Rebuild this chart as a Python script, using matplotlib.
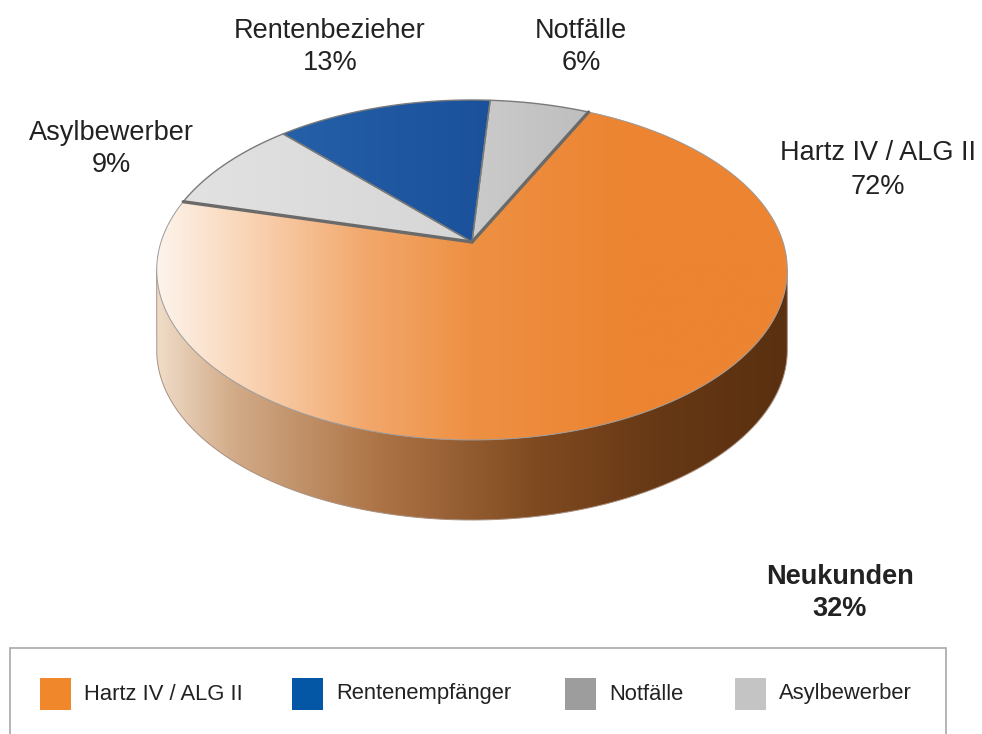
import numpy as np
import matplotlib
matplotlib.use("Agg")
import matplotlib.pyplot as plt
from matplotlib.patches import Polygon, Rectangle
from matplotlib.colors import LinearSegmentedColormap

# Daten
slice_labels = ["Hartz IV / ALG II", "Asylbewerber", "Rentenbezieher", "Notfälle"]
slice_shares = [72, 9, 13, 6]
legend_labels = ["Hartz IV / ALG II", "Rentenempfänger", "Notfälle", "Asylbewerber"]
legend_colors = ["#f0872a", "#0457a5", "#9d9d9d", "#c4c4c4"]
total_label = "Neukunden"
total_share = 32

plt.rcParams["font.family"] = ["Liberation Sans", "DejaVu Sans"]

fig = plt.figure(figsize=(9.82, 7.34), dpi=100)
ax = fig.add_axes([0, 0, 1, 1])
ax.set_xlim(0, 982)
ax.set_ylim(734, 0)
ax.axis("off")

# Geometrie des 3D-Kuchens (leichte Perspektive)
CX, CY, A, B, K, DEPTH = 472, 242, 311, 165.4, -0.1647, 80
START = 25.5  # Grad im Uhrzeigersinn von oben


def proj(theta, drop=0.0):
    t = np.radians(theta)
    u = np.sin(t)
    v = -np.cos(t)
    w = 1 + K * v
    return CX + A * u / w, CY + B * v / w + drop


def gradient_fill(poly, stops, x0, x1, y0, y1):
    cmap = LinearSegmentedColormap.from_list("g", stops)
    img = ax.imshow(np.linspace(0, 1, 256)[None, :], cmap=cmap, aspect="auto",
                    extent=(x0, x1, y1, y0), zorder=poly.get_zorder())
    img.set_clip_path(poly)


# Seitenwand
th = np.linspace(0, 360, 1441)
xs, ys = proj(th)
i_r, i_l = np.argmax(xs), np.argmin(xs)
front = th[i_r:i_l + 1]
fx, fy = proj(front)
bx, by = proj(front[::-1], DEPTH)
side = Polygon(np.column_stack([np.r_[fx, bx], np.r_[fy, by]]), closed=True,
               facecolor="none", edgecolor="none", zorder=1)
ax.add_patch(side)
gradient_fill(side, [(0, "#efdcc8"), (0.12, "#d2ab88"), (0.35, "#ad7446"),
                     (0.6, "#804a20"), (0.8, "#663815"), (1, "#5a3010")],
              xs.min(), xs.max(), 90, 540)
ax.plot(np.r_[fx[-1], bx, fx[0]], np.r_[fy[-1], by, fy[0]], color="#a89080", lw=0.7, zorder=2)

# Deckfläche
top_fills = {
    "Hartz IV / ALG II": [(0, "#fdf4ec"), (0.15, "#f9d3b3"), (0.33, "#f2a86c"),
                          (0.5, "#ee9043"), (0.75, "#ec8431"), (1, "#ec8533")],
    "Asylbewerber": [(0, "#e2e2e2"), (1, "#d6d6d6")],
    "Rentenbezieher": [(0, "#2560a8"), (1, "#1a519a")],
    "Notfälle": [(0, "#cbcbcb"), (1, "#bebebe")],
}
angle = START
for lab, share in zip(slice_labels, slice_shares):
    span = share / sum(slice_shares) * 360
    arc = np.linspace(angle, angle + span, max(int(span * 4), 4))
    axs_, ays_ = proj(arc)
    pts = np.column_stack([np.r_[CX, axs_], np.r_[CY, ays_]])
    poly = Polygon(pts, closed=True, facecolor="none", edgecolor="none", zorder=3)
    ax.add_patch(poly)
    gradient_fill(poly, top_fills[lab], min(axs_.min(), CX) - 1, max(axs_.max(), CX) + 1, 90, 450)
    if lab == slice_labels[0]:
        # Außenkante des großen Stücks nur fein
        ax.plot(axs_, ays_, color="#9a9a9a", lw=0.7, zorder=4)
    else:
        ax.add_patch(Polygon(pts, closed=True, facecolor="none", edgecolor="#7a7a7a",
                             lw=1.0, joinstyle="round", zorder=4))
    angle += span

# Kanten der kleinen Stücke zum großen Stück etwas kräftiger
for a in (START, START + slice_shares[0] / sum(slice_shares) * 360):
    ex, ey = proj(a)
    ax.plot([CX, ex], [CY, ey], color="#6a6a6a", lw=2.4, solid_capstyle="round", zorder=4)

# Beschriftungen
label_pos = {
    "Rentenbezieher": (330, 47),
    "Notfälle": (581, 47),
    "Asylbewerber": (111, 149),
    "Hartz IV / ALG II": (878, 170),
}
for lab, share in zip(slice_labels, slice_shares):
    x, y = label_pos[lab]
    ax.text(x, y, f"{lab}\n{share}%", ha="center", va="center", fontsize=19.5,
            color="#222222", linespacing=1.35, zorder=6)

ax.text(840, 593, f"{total_label}\n{total_share}%", ha="center", va="center",
        fontsize=19.5, fontweight="bold", color="#222222", linespacing=1.3, zorder=6)

# Legende
ax.add_patch(Rectangle((10, 648), 936, 120, facecolor="white", edgecolor="#a8a8a8",
                       lw=1.2, zorder=5))
leg_x = [40, 292, 565, 735]
for x, lab, col in zip(leg_x, legend_labels, legend_colors):
    ax.add_patch(Rectangle((x, 678), 31, 32, facecolor=col, edgecolor="none", zorder=6))
    ax.text(x + 44, 694, lab, ha="left", va="center", fontsize=15.8, color="#222222", zorder=6)

fig.savefig("out.png", dpi=100)
